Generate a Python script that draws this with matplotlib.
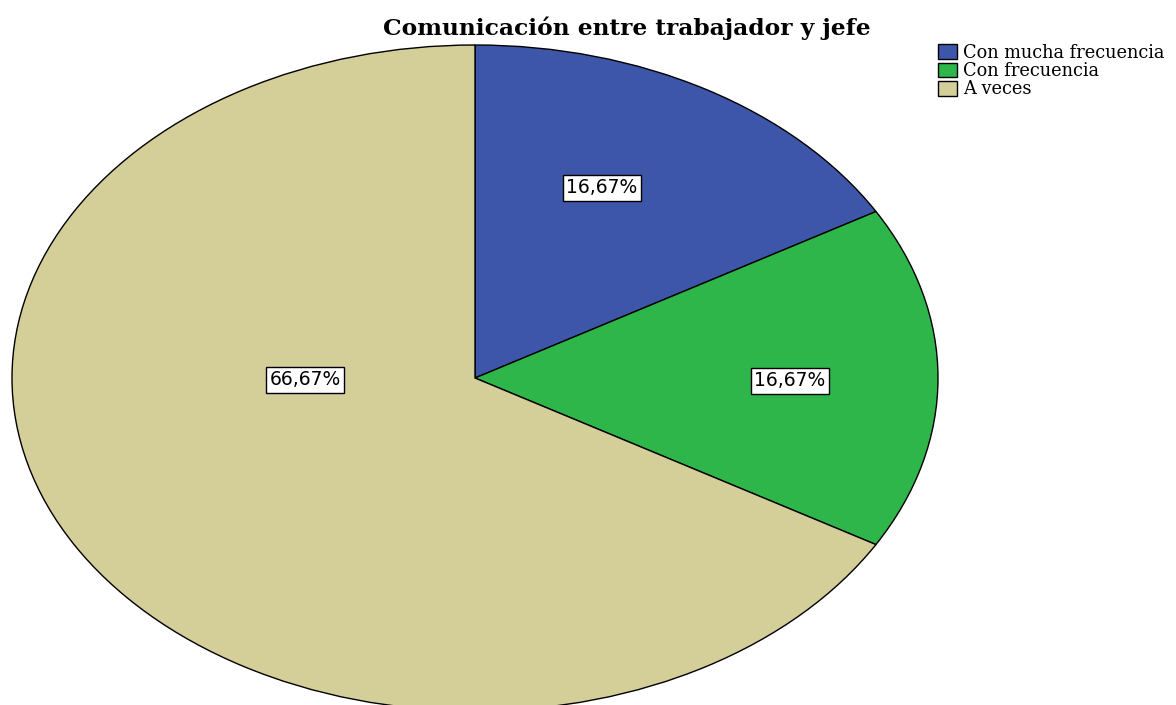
import matplotlib.pyplot as plt
from matplotlib.patches import Patch

categories = ['Con mucha frecuencia', 'Con frecuencia', 'A veces']
values = [16.67, 16.67, 66.67]
labels = ['16,67%', '16,67%', '66,67%']
colors = ['#3d56a9', '#2eb64a', '#d4ce98']
label_pos = [(0.274, 0.571), (0.68, -0.009), (-0.367, -0.006)]

fig = plt.figure(figsize=(11.76, 7.05), dpi=100)
ax = fig.add_axes([12/1176, 1 - 711/705, 926/1176, 666/705])

wedges, texts = ax.pie(values, colors=colors, startangle=90, counterclock=False,
                       wedgeprops=dict(edgecolor='black', linewidth=1))
ax.set_aspect('auto')
ax.set_xlim(-1, 1)
ax.set_ylim(-1, 1)
ax.axis('off')

for (x, y), lab in zip(label_pos, labels):
    ax.text(x, y, lab, ha='center', va='center', fontsize=13.5,
            family='DejaVu Sans',
            bbox=dict(boxstyle='square,pad=0.18', facecolor='white', edgecolor='black', linewidth=1))

fig.text(627/1176, 1 - 28/705, 'Comunicación entre trabajador y jefe', ha='center', va='center',
         fontsize=16.8, fontweight='bold', family='DejaVu Serif')

handles = [Patch(facecolor=c, edgecolor='black', label=n) for c, n in zip(colors, categories)]
fig.legend(handles=handles, loc='upper left', bbox_to_anchor=(936/1176, 1 - 42/705),
           frameon=False, prop={'family': 'DejaVu Serif', 'size': 12.8},
           handlelength=1.1, handleheight=0.9, handletextpad=0.3, labelspacing=0.02,
           borderaxespad=0, borderpad=0.1)

fig.savefig('out.png', dpi=100)
